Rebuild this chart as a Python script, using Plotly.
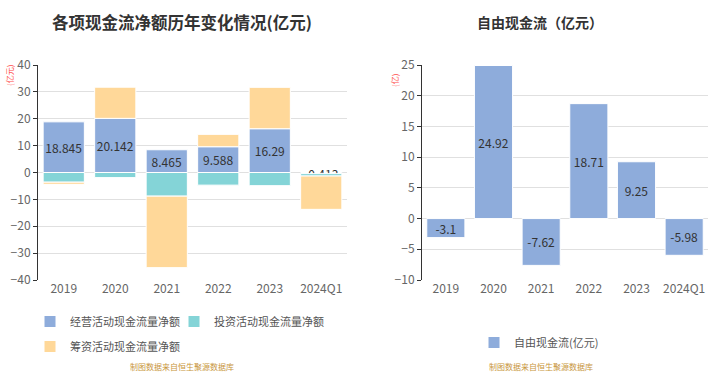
import plotly.graph_objects as go

# ---- data ----
categories = ["2019", "2020", "2021", "2022", "2023", "2024Q1"]
operating = [18.845, 20.142, 8.465, 9.588, 16.29, -0.413]
investing = [-3.6, -1.9, -8.8, -4.7, -4.9, -0.9]
financing = [-0.8, 11.6, -26.6, 4.6, 15.4, -12.4]
fcf = [-3.1, 24.92, -7.62, 18.71, 9.25, -5.98]

left_title = "各项现金流净额历年变化情况(亿元)"
right_title = "自由现金流（亿元）"
source_text = "制图数据来自恒生聚源数据库"

C_BLUE = "rgb(142,172,219)"
C_CYAN = "rgb(132,212,215)"
C_ORANGE = "rgb(255,216,153)"
FONT = "Noto Sans CJK SC"

W, H = 727, 380
def px(x):
    return x / W
def py(y):
    return 1 - y / H

L_DOM = [px(38), px(347)]
R_DOM = [px(422), px(708)]
Y_DOM = [py(280), py(65)]
L_RANGE = [-40, 40]
R_RANGE = [-10, 25]

def zero_pos(rng):
    return Y_DOM[0] + (0 - rng[0]) / (rng[1] - rng[0]) * (Y_DOM[1] - Y_DOM[0])

fig = go.Figure()
bar_line = dict(color="white", width=1)
fig.add_trace(go.Bar(x=categories, y=operating, name="经营活动现金流量净额",
                     marker=dict(color=C_BLUE, line=bar_line),
                     text=[str(v) for v in operating], textposition="inside",
                     insidetextanchor="middle", constraintext="none", textangle=0,
                     textfont=dict(color="#333", size=12, family=FONT),
                     xaxis="x", yaxis="y", legend="legend", cliponaxis=False))
fig.add_trace(go.Bar(x=categories, y=investing, name="投资活动现金流量净额",
                     marker=dict(color=C_CYAN, line=bar_line),
                     xaxis="x", yaxis="y", legend="legend2"))
fig.add_trace(go.Bar(x=categories, y=financing, name="筹资活动现金流量净额",
                     marker=dict(color=C_ORANGE, line=bar_line),
                     xaxis="x", yaxis="y", legend="legend3"))
fig.add_trace(go.Bar(x=categories, y=fcf, name="自由现金流(亿元)",
                     marker=dict(color=C_BLUE, line=bar_line),
                     text=[str(v) for v in fcf], textposition="inside",
                     insidetextanchor="middle", constraintext="none", textangle=0,
                     textfont=dict(color="#333", size=12, family=FONT),
                     xaxis="x2", yaxis="y2", legend="legend4", cliponaxis=False))

tickfont = dict(size=12, color="#666", family=FONT)
def yax(rng, dtick, anchor):
    return dict(domain=Y_DOM, range=rng, dtick=dtick, anchor=anchor,
                showgrid=True, gridcolor="#e0e0e0", gridwidth=1,
                zeroline=False, showline=True, linecolor="#333", linewidth=1,
                ticks="outside", ticklen=4, tickcolor="#333", tickfont=tickfont,
                fixedrange=True, automargin=False)
def xax(dom, anchor):
    return dict(domain=dom, anchor=anchor, type="category", range=[-0.5, 5.5],
                showgrid=False, showline=False, zeroline=False, ticks="",
                tickfont=tickfont, automargin=False, fixedrange=True)
def zax(dom, overlay, rng):
    return dict(domain=dom, overlaying=overlay, anchor="free", position=zero_pos(rng),
                range=[-0.5, 5.5], tickvals=[i + 0.5 for i in range(-1, 6)],
                showticklabels=False, ticks="outside", ticklen=4, tickcolor="#333",
                showline=True, linecolor="#333", linewidth=1, showgrid=False,
                zeroline=False, automargin=False, fixedrange=True)

legfont = dict(size=11, color="#555", family=FONT)
def leg(x, y):
    return dict(orientation="h", x=px(x), y=py(y), xanchor="left", yanchor="top",
                font=legfont, itemclick=False, bgcolor="rgba(0,0,0,0)")

fig.update_layout(
    width=W, height=H, margin=dict(l=0, r=0, t=0, b=0, autoexpand=False),
    paper_bgcolor="white", plot_bgcolor="white",
    barmode="relative", bargap=0.2, showlegend=True,
    font=dict(family=FONT, color="#666"),
    xaxis=xax(L_DOM, "y"), yaxis=yax(L_RANGE, 10, "x"),
    xaxis2=xax(R_DOM, "y2"), yaxis2=yax(R_RANGE, 5, "x2"),
    xaxis3=zax(L_DOM, "x", L_RANGE), xaxis4=zax(R_DOM, "x2", R_RANGE),
    legend=leg(30, 307), legend2=leg(174, 307), legend3=leg(30, 332),
    legend4=leg(474, 328),
)

ann = [
    dict(text=f"<b>{left_title}</b>", x=px(182), y=py(22), font=dict(size=16.5, color="#333")),
    dict(text=f"<b>{right_title}</b>", x=px(540), y=py(22), font=dict(size=14, color="#333")),
    dict(text="(亿元)", x=px(10), y=py(76), textangle=-90, font=dict(size=8, color="#ff4d4d")),
    dict(text="(亿)", x=px(394), y=py(81), textangle=-90, font=dict(size=8, color="#ff4d4d")),
    dict(text=source_text, x=px(182), y=py(366), font=dict(size=8, color="#c8963c")),
    dict(text=source_text, x=px(541), y=py(366), font=dict(size=8, color="#c8963c")),
]
for a in ann:
    fig.add_annotation(xref="paper", yref="paper", showarrow=False,
                       xanchor="center", yanchor="middle", **a)

fig.write_html("out.html", config={"displayModeBar": False},
               post_script="document.body.style.margin='0';")
